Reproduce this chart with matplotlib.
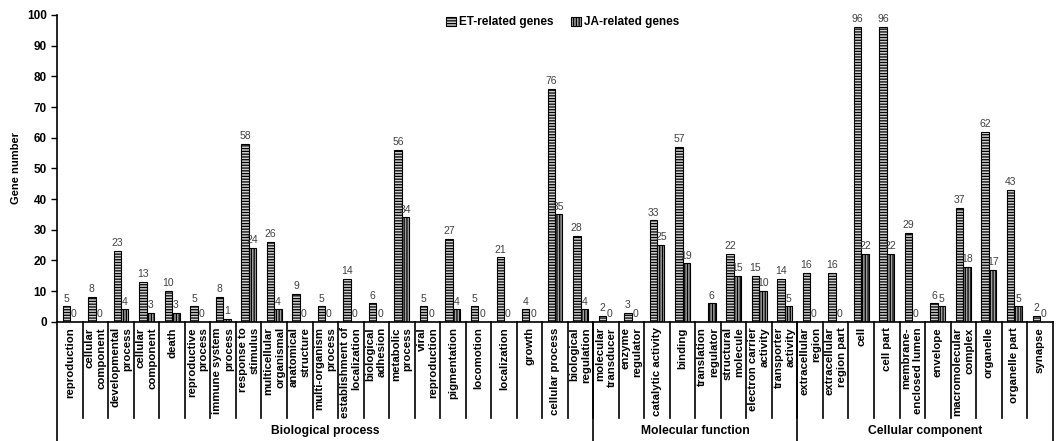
import numpy as np
import matplotlib
matplotlib.use("Agg")
import matplotlib.pyplot as plt
import matplotlib.transforms as mtransforms
from matplotlib.patches import Patch

plt.rcParams['font.family'] = ['Liberation Sans', 'DejaVu Sans']
plt.rcParams['hatch.linewidth'] = 0.9

# GO categories (rotated labels under the axis)
categories = [
    "reproduction", "cellular\ncomponent", "developmental\nprocess", "cellular\ncomponent",
    "death", "reproductive\nprocess", "immune system\nprocess", "response to\nstimulus",
    "multicellular\norganismal", "anatomical\nstructure", "multi-organism\nprocess",
    "establishment of\nlocalization", "biological\nadhesion", "metabolic\nprocess",
    "viral\nreproduction", "pigmentation", "locomotion", "localization", "growth",
    "cellular process", "biological\nregulation",
    "molecular\ntransducer", "enzyme\nregulator", "catalytic activity", "binding",
    "translation\nregulator", "structural\nmolecule", "electron carrier\nactivity",
    "transporter\nactivity",
    "extracellular\nregion", "extracellular\nregion part", "cell", "cell part",
    "membrane-\nenclosed lumen", "envelope", "macromolecular\ncomplex", "organelle",
    "organelle part", "synapse",
]
groups = ["Biological process", "Molecular function", "Cellular component"]
group_sizes = [21, 8, 10]

# ET value for "translation regulator" is not shown in the source -> nan
et_genes = [5, 8, 23, 13, 10, 5, 8, 58, 26, 9, 5, 14, 6, 56, 5, 27, 5, 21, 4, 76, 28,
            2, 3, 33, 57, np.nan, 22, 15, 14,
            16, 16, 96, 96, 29, 6, 37, 62, 43, 2]
ja_genes = [0, 0, 4, 3, 3, 0, 1, 24, 4, 0, 0, 0, 0, 34, 0, 4, 0, 0, 0, 35, 4,
            0, 0, 25, 19, 6, 15, 10, 5,
            0, 0, 22, 22, 0, 5, 18, 17, 5, 0]

fig = plt.figure(figsize=(10.57, 4.41), dpi=100)
ax = fig.add_axes([0.0542, 0.2705, 0.9417, 0.6955])

x = np.arange(len(categories))
w = 0.29
et = np.array(et_genes, dtype=float)
ja = np.array(ja_genes, dtype=float)

et_style = dict(facecolor='#d0d0d0', edgecolor='black', hatch='------', lw=0.8)
ja_style = dict(facecolor='#a0a0a0', edgecolor='black', hatch='||||||', lw=0.8)

b1 = ax.bar(x - w / 2, np.nan_to_num(et), w, label='ET-related genes', **et_style)
b2 = ax.bar(x + w / 2, ja, w, label='JA-related genes', **ja_style)

et_lbl = ['' if np.isnan(v) else f'{int(v)}' for v in et]
ja_lbl = [f'{int(v)}' for v in ja]
ax.bar_label(b1, labels=et_lbl, padding=2, fontsize=7.5, color='#404040')
ax.bar_label(b2, labels=ja_lbl, padding=2, fontsize=7.5, color='#404040')

ax.set_xlim(-0.5, len(categories) - 0.5)
ax.set_ylim(0, 100)
ax.set_yticks(range(0, 101, 10))
ax.tick_params(axis='y', direction='out', length=4, width=1, labelsize=8.5)
for t in ax.get_yticklabels():
    t.set_fontweight('bold')
ax.set_xticks([])
ax.set_ylabel('Gene number', fontsize=8, fontweight='bold', labelpad=4)
for s in ['top', 'right']:
    ax.spines[s].set_visible(False)
ax.spines['left'].set_linewidth(1.2)
ax.spines['bottom'].set_linewidth(1.2)

trans = mtransforms.blended_transform_factory(ax.transData, ax.transAxes)

# category labels and dividers
for i, lab in enumerate(categories):
    ax.text(i, -0.018, lab, rotation=90, ha='center', va='top', multialignment='right',
            fontsize=8.2, fontweight='bold', linespacing=1.2, transform=trans)
for k in range(1, len(categories)):
    ax.plot([k - 0.5, k - 0.5], [0, -0.313], color='black', lw=1.2,
            transform=trans, clip_on=False)

# group dividers and names
edges = np.concatenate([[0], np.cumsum(group_sizes)]) - 0.5
for e in edges:
    ax.plot([e, e], [0, -0.39], color='black', lw=1.2, transform=trans, clip_on=False)
for g, a, b in zip(groups, edges[:-1], edges[1:]):
    ax.text((a + b) / 2, -0.355, g, ha='center', va='center', fontsize=8.7,
            fontweight='bold', transform=trans)

ax.legend(handles=[Patch(label='ET-related genes', **et_style),
                   Patch(label='JA-related genes', **ja_style)],
          loc='upper center', bbox_to_anchor=(0.508, 1.03), ncol=2, frameon=False,
          prop={'weight': 'bold', 'size': 8.5}, handlelength=0.8, handleheight=0.8,
          handletextpad=0.3, columnspacing=1.5)

fig.savefig('out.png', dpi=100)
